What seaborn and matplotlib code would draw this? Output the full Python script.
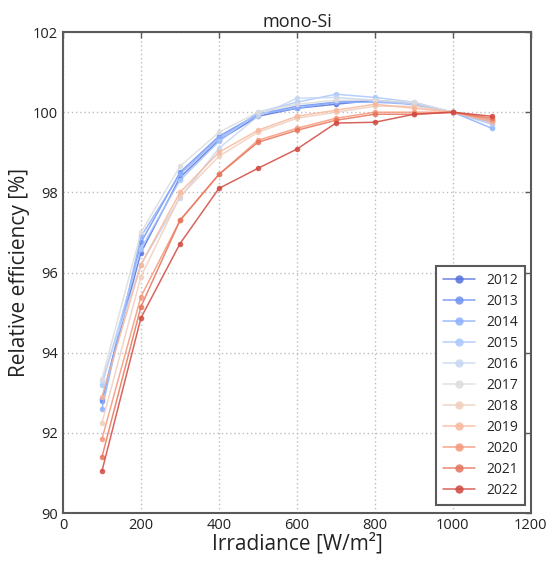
import numpy as np
import pandas as pd
import matplotlib
matplotlib.use("Agg")
import matplotlib.pyplot as plt
import seaborn as sns

# Irradiance levels [W/m²]
irradiance = [100, 200, 300, 400, 500, 600, 700, 800, 900, 1000, 1100]
years = ["2012", "2013", "2014", "2015", "2016", "2017",
         "2018", "2019", "2020", "2021", "2022"]

# Relative efficiency [%] per year
eff_2012 = [92.85, 96.50, 98.37, 99.30, 99.90, 100.10, 100.20, 100.30, 100.20, 100.0, 99.80]
eff_2013 = [92.80, 96.75, 98.50, 99.40, 99.95, 100.15, 100.25, 100.30, 100.20, 100.0, 99.75]
eff_2014 = [92.60, 96.90, 98.45, 99.35, 99.95, 100.10, 100.25, 100.25, 100.20, 100.0, 99.60]
eff_2015 = [93.20, 96.60, 98.30, 99.27, 100.00, 100.25, 100.45, 100.37, 100.25, 100.0, 99.70]
eff_2016 = [93.30, 96.20, 97.87, 99.10, 99.90, 100.35, 100.37, 100.30, 100.20, 100.0, 99.80]
eff_2017 = [93.35, 97.00, 98.65, 99.50, 100.00, 100.20, 100.30, 100.30, 100.25, 100.0, 99.80]
eff_2018 = [92.25, 95.90, 97.90, 98.90, 99.50, 99.85, 100.00, 100.15, 100.15, 100.0, 99.80]
eff_2019 = [92.90, 96.20, 98.00, 99.00, 99.55, 99.90, 100.05, 100.20, 100.10, 100.0, 99.75]
eff_2020 = [91.85, 95.40, 97.30, 98.45, 99.30, 99.60, 99.85, 100.00, 100.00, 100.0, 99.80]
eff_2021 = [91.40, 95.15, 97.30, 98.45, 99.25, 99.55, 99.80, 99.95, 99.95, 100.0, 99.85]
eff_2022 = [91.05, 94.87, 96.72, 98.10, 98.60, 99.08, 99.73, 99.75, 99.95, 100.0, 99.90]

series = [eff_2012, eff_2013, eff_2014, eff_2015, eff_2016, eff_2017,
          eff_2018, eff_2019, eff_2020, eff_2021, eff_2022]

df = pd.DataFrame({
    "Irradiance": np.tile(irradiance, len(years)),
    "Efficiency": np.concatenate(series),
    "Year": np.repeat(years, len(irradiance)),
})

sns.set_style("white")
plt.rcParams["font.family"] = ["Open Sans", "DejaVu Sans"]

fig = plt.figure(figsize=(5.55, 5.63), dpi=100)
ax = fig.add_axes([0.1135, 0.0888, 0.843, 0.8542])

palette = sns.color_palette("coolwarm", len(years))
sns.lineplot(data=df, x="Irradiance", y="Efficiency", hue="Year",
             palette=palette, marker="o", markersize=4, markeredgewidth=0,
             linewidth=1.1, alpha=0.85, ax=ax, legend=True)

ax.set_xlim(0, 1200)
ax.set_ylim(90, 102)
ax.set_xticks(np.arange(0, 1201, 200))
ax.set_yticks(np.arange(90, 102.1, 2))
ax.set_yticklabels([f"{int(v)}" for v in np.arange(90, 102.1, 2)])
ax.grid(True, linestyle=(0, (1, 2)), color="#bdbdbd", linewidth=1.0)

for sp in ax.spines.values():
    sp.set_color("#5a5a5a")
    sp.set_linewidth(1.5)
ax.tick_params(direction="in", length=4, width=1, colors="#5a5a5a",
               labelcolor="#222222", labelsize=10.5, top=True, right=True)

ax.set_xlabel("Irradiance [W/m²]", fontsize=15, color="#222222", labelpad=0)
ax.set_ylabel("Relative efficiency [%]", fontsize=15, color="#222222", labelpad=2)
ax.set_title("mono-Si", fontsize=13, color="#222222", pad=4)

handles, labels = ax.get_legend_handles_labels()
for h in handles:
    h.set_markersize(6)
leg = ax.legend(handles, labels, loc="lower right", fontsize=10, frameon=True,
                fancybox=False, edgecolor="#5a5a5a", framealpha=1,
                handlelength=2.3, borderpad=0.5, labelspacing=0.43,
                borderaxespad=0, bbox_to_anchor=(0.987, 0.017))
leg.get_frame().set_linewidth(1.5)

fig.savefig("out.png", dpi=100)
